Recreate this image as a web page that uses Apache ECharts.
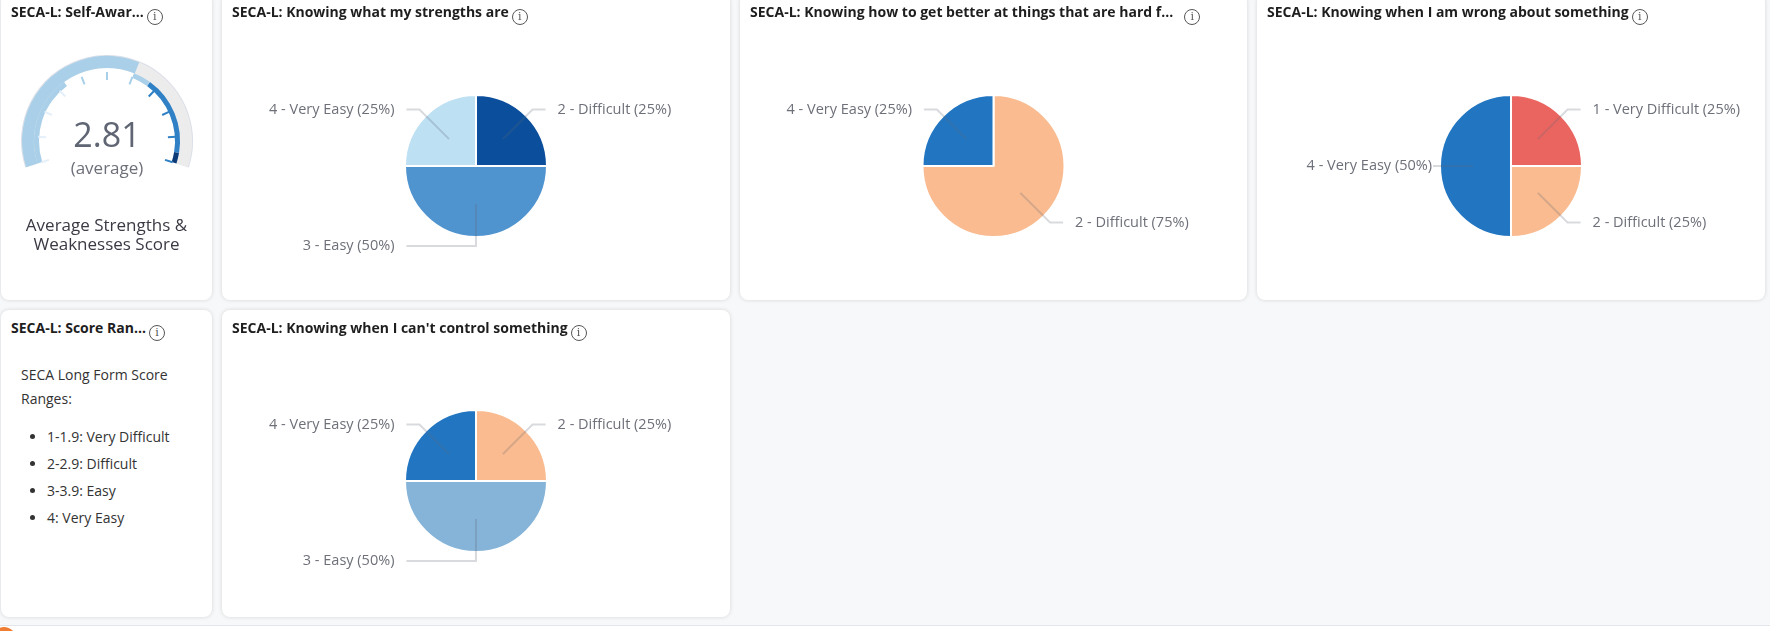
<!DOCTYPE html>
<html>
<head>
<meta charset="utf-8">
<title>SECA-L</title>
<script src="https://cdn.jsdelivr.net/npm/echarts@6/dist/echarts.min.js"></script>
<style>
	html, body { margin: 0; padding: 0; }
	body { width: 1770px; height: 631px; overflow: hidden; position: relative; background: #f7f8fa; font-family: "Open Sans", "Noto Sans", sans-serif; }
	.card { position: absolute; background: #fff; border-radius: 8px; box-shadow: 0 0 4px rgba(0, 0, 0, 0.14); overflow: hidden; }
	.ttl { position: absolute; left: 10px; top: 8px; z-index: 2; font-size: 14px; font-weight: 700; line-height: 20px; color: #1e1e1e; white-space: nowrap; }
	.info { display: inline-block; box-sizing: border-box; width: 16px; height: 16px; margin-left: 3px; border: 1.2px solid #555; border-radius: 50%; font: 400 11px/13px "DejaVu Serif", serif; color: #555; text-align: center; vertical-align: -3px; }
	.chart { position: absolute; left: 0; top: 0; right: 0; bottom: 0; }
	.ranges { position: absolute; left: 20px; top: 53px; font-size: 14px; line-height: 24px; color: #333; }
	.ranges ul { position: absolute; left: 26px; top: 60px; margin: 0; padding: 0; white-space: nowrap; }
	.ranges li { line-height: 27px; }
	.foot { position: absolute; left: 0; top: 625px; width: 1770px; height: 6px; background: #fff; border-top: 1px solid #e3e5ea; }
	.dot { position: absolute; left: -8px; top: 627px; width: 24px; height: 24px; border-radius: 50%; background: #ef7d33; }
</style>
</head>
<body>
	<div class="card" style="left:1px;top:-6px;width:211px;height:306px">
		<div class="ttl">SECA-L: Self-Awar...<span class="info">i</span></div>
		<div id="gauge" class="chart"></div>
	</div>
	<div class="card" style="left:222px;top:-6px;width:508px;height:306px">
		<div class="ttl">SECA-L: Knowing what my strengths are<span class="info">i</span></div>
		<div id="pie1" class="chart"></div>
	</div>
	<div class="card" style="left:740px;top:-6px;width:507px;height:306px">
		<div class="ttl">SECA-L: Knowing how to get better at things that are hard f...<span class="info" style="margin-left:11px">i</span></div>
		<div id="pie2" class="chart"></div>
	</div>
	<div class="card" style="left:1257px;top:-6px;width:508px;height:306px">
		<div class="ttl">SECA-L: Knowing when I am wrong about something<span class="info">i</span></div>
		<div id="pie3" class="chart"></div>
	</div>
	<div class="card" style="left:1px;top:310px;width:211px;height:307px">
		<div class="ttl">SECA-L: Score Ran...<span class="info">i</span></div>
		<div class="ranges">
			SECA Long Form Score<br>Ranges:
			<ul>
				<li>1-1.9: Very Difficult</li>
				<li>2-2.9: Difficult</li>
				<li>3-3.9: Easy</li>
				<li>4: Very Easy</li>
			</ul>
		</div>
	</div>
	<div class="card" style="left:222px;top:310px;width:508px;height:307px">
		<div class="ttl">SECA-L: Knowing when I can't control something<span class="info">i</span></div>
		<div id="pie4" class="chart"></div>
	</div>
	<div class="foot"></div>
	<div class="dot"></div>

	<script>
		// gauge: average score on the 1-4 scale
		var gaugeMin = 1;
		var gaugeMax = 4;
		var gaugeValue = 2.81;
		var gaugeCaption = '(average)';
		var gaugeSubtitle = 'Average Strengths &\nWeaknesses Score';

		// pies: answer counts per category
		var strengthsCats = ['2 - Difficult', '3 - Easy', '4 - Very Easy'];
		var strengthsVals = [1, 2, 1];
		var betterCats = ['2 - Difficult', '4 - Very Easy'];
		var betterVals = [3, 1];
		var wrongCats = ['1 - Very Difficult', '2 - Difficult', '4 - Very Easy'];
		var wrongVals = [1, 1, 2];
		var controlCats = ['2 - Difficult', '3 - Easy', '4 - Very Easy'];
		var controlVals = [1, 2, 1];

		var labelFont = '"Open Sans", "Noto Sans", sans-serif';

		function pieOption(cats, vals, colors, cy, tweaks) {
			var data = cats.map(function (c, i) {
				return { name: c, value: vals[i] };
			});
			var labelData = data.map(function (d) {
				var t = (tweaks && tweaks[d.name]) || {};
				return Object.assign({}, d, t);
			});
			return {
				animation: false,
				color: colors,
				series: [{
					type: 'pie',
					radius: 71,
					center: ['50%', cy],
					startAngle: 89.99, // keeps a half slice's label on the left
					data: data,
					silent: true,
					label: { show: false },
					labelLine: { show: false },
					itemStyle: { borderColor: '#fff', borderWidth: 2 }
				}, {
					// invisible inner ring that only carries the labels
					type: 'pie',
					radius: 38,
					center: ['50%', cy],
					startAngle: 89.99,
					z: 3,
					data: labelData,
					silent: true,
					itemStyle: { color: 'rgba(0,0,0,0)' },
					label: {
						show: true,
						formatter: '{b} ({d}%)',
						color: '#6e7079',
						fontSize: 14.5,
						fontFamily: labelFont,
						alignTo: 'labelLine',
						distanceToLabelLine: 12
					},
					labelLine: {
						show: true,
						length: 42,
						length2: 13,
						lineStyle: { color: 'rgba(96,100,116,0.24)', width: 2 }
					}
				}]
			};
		}

		var base = {
			type: 'gauge',
			center: [106, 147],
			startAngle: 198,
			endAngle: -18,
			min: gaugeMin,
			max: gaugeMax,
			silent: true,
			pointer: { show: false },
			axisTick: { show: false },
			splitLine: { show: false },
			axisLabel: { show: false },
			title: { show: false },
			detail: { show: false },
			data: [{ value: gaugeValue, name: gaugeCaption }]
		};

		var gauge = echarts.init(document.getElementById('gauge'));
		gauge.setOption({
			animation: false,
			title: {
				text: gaugeSubtitle,
				left: 'center',
				top: 218,
				textStyle: { fontSize: 17, fontWeight: 'normal', color: '#3a3a44', lineHeight: 19, fontFamily: labelFont }
			},
			series: [
				Object.assign({}, base, {
					radius: 86,
					axisLine: { lineStyle: { width: 14, color: [[1, '#dcdfe9']] } }
				}),
				Object.assign({}, base, {
					radius: 85,
					axisLine: { lineStyle: { width: 12, color: [[1, '#ececec']] } },
					progress: { show: true, width: 12, itemStyle: { color: '#a9d0e8' } },
					detail: {
						show: true,
						formatter: '{value}',
						offsetCenter: [0, -4],
						fontSize: 34,
						fontWeight: 'normal',
						fontFamily: labelFont,
						color: '#5f6573'
					},
					title: {
						show: true,
						offsetCenter: [0, 28],
						fontSize: 17,
						fontFamily: labelFont,
						color: '#6e7079'
					}
				}),
				Object.assign({}, base, {
					radius: 73,
					axisLine: {
						lineStyle: {
							width: 5,
							color: [[0.333, '#a9d0e8'], [0.6, '#ffffff'], [0.667, '#a9d0e8'], [0.96, '#2f80c5'], [1, '#0c3b78']]
						}
					}
				}),
				Object.assign({}, base, {
					radius: 69,
					splitNumber: 10,
					axisLine: {
						show: false,
						lineStyle: { width: 0, color: [[0.333, '#e4eff9'], [0.667, '#a9d0e8'], [1, '#2f80c5']] }
					},
					splitLine: { show: true, distance: 0, length: 8, lineStyle: { color: 'auto', width: 2 } }
				})
			]
		});

		echarts.init(document.getElementById('pie1')).setOption(
			pieOption(strengthsCats, strengthsVals, ['#0b4f9c', '#5094cf', '#bde0f3'], 172));
		echarts.init(document.getElementById('pie2')).setOption(
			pieOption(betterCats, betterVals, ['#f9bb8f', '#2276c1'], 172));
		echarts.init(document.getElementById('pie3')).setOption(
			pieOption(wrongCats, wrongVals, ['#eb6560', '#f9bb8f', '#2276c1'], 172, {
				'4 - Very Easy': { labelLine: { length: 40, length2: 0 }, label: { distanceToLabelLine: 1 } }
			}));
		echarts.init(document.getElementById('pie4')).setOption(
			pieOption(controlCats, controlVals, ['#f9bb8f', '#85b4d8', '#2276c1'], 171));
	</script>
</body>
</html>
